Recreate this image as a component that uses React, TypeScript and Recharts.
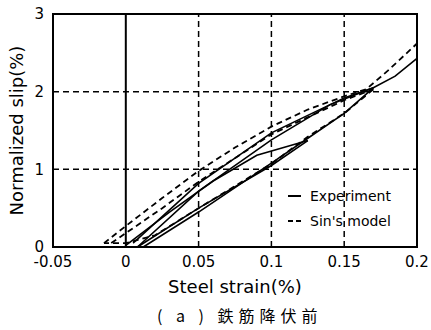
import { LineChart, Line, XAxis, YAxis, ReferenceLine, ReferenceArea, Legend } from 'recharts';

type Pt = { x: number; y: number };

const xTicks = [-0.05, 0, 0.05, 0.1, 0.15, 0.2];
const yTicks = [0, 1, 2, 3];
const xGrid = [0.05, 0.1, 0.15];
const yGrid = [1, 2];
const legendNames = ['Experiment', "Sin's model"];

// Experiment (solid) - load / unload branches
const expLoad1: Pt[] = [
    { x: 0, y: 0.02 }, { x: 0.03, y: 0.45 }, { x: 0.06, y: 0.85 }, { x: 0.09, y: 1.18 }, { x: 0.125, y: 1.37 },
];
const expUnload1: Pt[] = [
    { x: 0.125, y: 1.37 }, { x: 0.1, y: 1.05 }, { x: 0.05, y: 0.5 }, { x: 0.008, y: 0 },
];
const expLoad2: Pt[] = [
    { x: 0.008, y: 0 }, { x: 0.05, y: 0.72 }, { x: 0.1, y: 1.38 }, { x: 0.14, y: 1.83 }, { x: 0.17, y: 2.05 },
];
const expUnload2: Pt[] = [
    { x: 0.17, y: 2.05 }, { x: 0.15, y: 1.72 }, { x: 0.125, y: 1.4 }, { x: 0.1, y: 1.08 }, { x: 0.05, y: 0.45 }, { x: 0.012, y: 0 },
];
const expLoad3: Pt[] = [
    { x: 0.005, y: 0.05 }, { x: 0.05, y: 0.82 }, { x: 0.1, y: 1.47 }, { x: 0.15, y: 1.92 }, { x: 0.17, y: 2.05 },
    { x: 0.185, y: 2.2 }, { x: 0.2, y: 2.43 },
];

// Sin's model (dashed)
const modUpper: Pt[] = [
    { x: -0.015, y: 0.05 }, { x: 0, y: 0.27 }, { x: 0.025, y: 0.63 }, { x: 0.05, y: 0.98 }, { x: 0.075, y: 1.28 },
    { x: 0.1, y: 1.55 }, { x: 0.125, y: 1.77 }, { x: 0.15, y: 1.94 }, { x: 0.165, y: 2.03 }, { x: 0.18, y: 2.27 },
    { x: 0.2, y: 2.62 },
];
const modInner: Pt[] = [
    { x: -0.01, y: 0.05 }, { x: 0.025, y: 0.5 }, { x: 0.05, y: 0.84 }, { x: 0.1, y: 1.45 }, { x: 0.15, y: 1.89 }, { x: 0.17, y: 2.03 },
];
const modLower: Pt[] = [
    { x: 0.17, y: 2.03 }, { x: 0.15, y: 1.72 }, { x: 0.125, y: 1.42 }, { x: 0.1, y: 1.07 }, { x: 0.05, y: 0.5 },
    { x: 0.02, y: 0.15 }, { x: 0, y: 0.05 }, { x: -0.015, y: 0.05 },
];

const expBranches = [expLoad1, expUnload1, expLoad2, expUnload2, expLoad3];
const modelBranches = [modUpper, modInner, modLower];

const FONT = '"DejaVu Sans", sans-serif';

const YTitle = ({ viewBox }: any) => {
    const cx = viewBox.x + 8;
    const cy = viewBox.y + viewBox.height / 2;
    return (
        <text x={cx} y={cy} transform={`rotate(-90 ${cx} ${cy})`} textAnchor="middle" dominantBaseline="central"
            fontSize={18} fontFamily={FONT} fill="#000">
            Normalized slip(%)
        </text>
    );
};

const SlipLegend = () => (
    <div style={{ fontFamily: FONT, fontSize: 14, color: '#000' }}>
        {legendNames.map((name, i) => (
            <div key={name} style={{ display: 'flex', alignItems: 'center', height: 25 }}>
                <svg width={14} height={10} style={{ marginRight: 8 }}>
                    <line x1={0} y1={5} x2={13} y2={5} stroke="#000" strokeWidth={2}
                        strokeDasharray={i === 0 ? undefined : '5 3'} />
                </svg>
                <span>{name}</span>
            </div>
        ))}
    </div>
);

export default function App() {
    return (
        <div style={{ position: 'absolute', left: 0, top: 0, width: 431, height: 330, background: '#fff' }}>
            <LineChart width={431} height={330} margin={{ top: 14, right: 14, bottom: 23, left: 8 }}>
                <XAxis type="number" dataKey="x" domain={[-0.05, 0.2]} ticks={xTicks} height={60}
                    tickSize={0} tickMargin={9} axisLine={false}
                    tick={{ fill: '#000', fontSize: 15, fontFamily: FONT }}
                    label={{ value: 'Steel strain(%)', position: 'insideBottom', offset: 14, fill: '#000', fontSize: 18, fontFamily: FONT }} />
                <YAxis type="number" domain={[0, 3]} ticks={yTicks} width={45} tickSize={0} tickMargin={9} axisLine={false}
                    tick={{ fill: '#000', fontSize: 15, fontFamily: FONT }} label={<YTitle />} />

                {xGrid.map((v) => (
                    <ReferenceLine key={'gx' + v} x={v} stroke="#000" strokeWidth={1.5} strokeDasharray="6 4" />
                ))}
                {yGrid.map((v) => (
                    <ReferenceLine key={'gy' + v} y={v} stroke="#000" strokeWidth={1.5} strokeDasharray="6 4" />
                ))}
                <ReferenceLine x={0} stroke="#000" strokeWidth={2} />

                {expBranches.map((d, i) => (
                    <Line key={'e' + i} data={d} dataKey="y" type="linear" stroke="#000" strokeWidth={1.6}
                        dot={false} isAnimationActive={false} name="Experiment" />
                ))}
                {modelBranches.map((d, i) => (
                    <Line key={'m' + i} data={d} dataKey="y" type="linear" stroke="#000" strokeWidth={1.8}
                        strokeDasharray="6 4" dot={false} isAnimationActive={false} name="Sin's model" />
                ))}

                <ReferenceArea x1={-0.05} x2={0.2} y1={0} y2={3} fill="none" fillOpacity={0} stroke="#000" strokeWidth={2} />
                <Legend content={<SlipLegend />} layout="horizontal" verticalAlign="middle" align="center"
                    wrapperStyle={{ left: 288, top: 183, width: 130 }} />
            </LineChart>
            <div style={{
                position: 'absolute', left: 157, top: 306, fontSize: 16, lineHeight: '18px', letterSpacing: 5,
                fontFamily: '"Noto Sans CJK JP", sans-serif', color: '#000', whiteSpace: 'nowrap',
            }}>
                ( a ) 鉄筋降伏前
            </div>
        </div>
    );
}
